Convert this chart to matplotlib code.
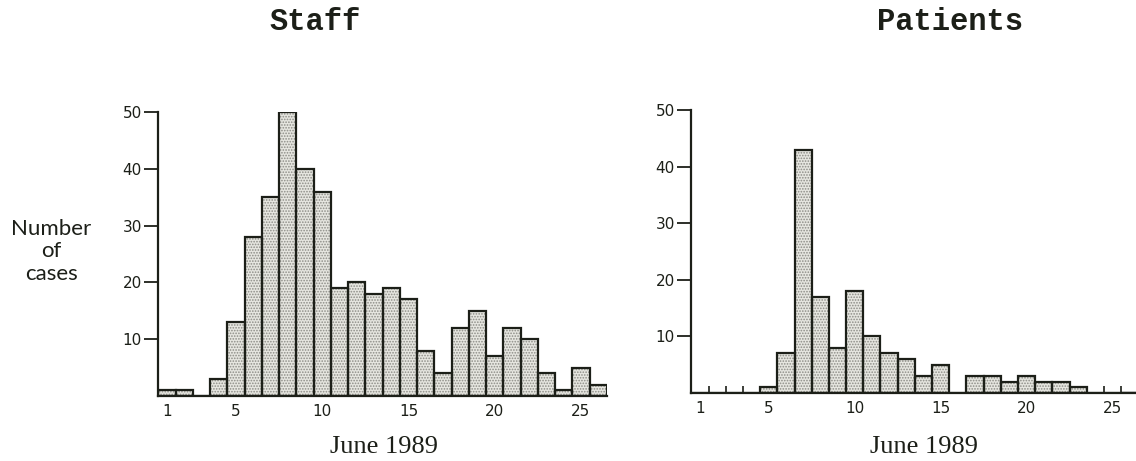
import matplotlib
matplotlib.use("Agg")
import matplotlib.pyplot as plt
import numpy as np

days = list(range(1, 27))
staff = [1, 1, 0, 3, 13, 28, 35, 50, 40, 36, 19, 20, 18, 19, 17, 8, 4, 12, 15, 7, 12, 10, 4, 1, 5, 2]
patients = [0, 0, 0, 0, 1, 7, 43, 17, 8, 18, 10, 7, 6, 3, 5, 0, 3, 3, 2, 3, 2, 2, 1, 0, 0, 0]
xtick_vals = [1, 5, 10, 15, 20, 25]
ytick_vals = [10, 20, 30, 40, 50]
titles = ["Staff", "Patients"]
xlabel = "June 1989"
ylabel = "Number\nof\ncases"

ink = "#1c1f18"
plt.rcParams['hatch.linewidth'] = 0.8
plt.rcParams['hatch.color'] = '#8c8c86'

fig = plt.figure(figsize=(11.36, 4.61), dpi=100)
fig.patch.set_facecolor("white")

rects = [[0.1394, 0.141, 0.3948, 0.616], [0.6086, 0.1475, 0.3935, 0.614]]
series = [staff, patients]

for rect, vals, title in zip(rects, series, titles):
    ax = fig.add_axes(rect)
    ax.bar(days, vals, width=1.0, color="#e6e6e0", edgecolor="#8c8c86",
           hatch="......", linewidth=0)
    ax.bar(days, vals, width=1.0, facecolor="none", edgecolor=ink, linewidth=1.6)
    ax.set_xlim(0.5, 26.5)
    ax.set_ylim(0, 50)
    for s in ["top", "right"]:
        ax.spines[s].set_visible(False)
    for s in ["left", "bottom"]:
        ax.spines[s].set_color(ink)
        ax.spines[s].set_linewidth(1.6)
    ax.set_xticks(xtick_vals)
    ax.set_xticklabels([str(v) for v in xtick_vals], fontsize=11, family="DejaVu Sans", color=ink)
    ax.set_xticks(np.arange(1.5, 26.5, 1.0), minor=True)
    ax.tick_params(axis="x", which="major", length=0, pad=6)
    ax.tick_params(axis="x", which="minor", direction="in", length=5, width=1.2, color=ink)
    ax.set_yticks(ytick_vals)
    ax.set_yticklabels([str(v) for v in ytick_vals], fontsize=11, family="DejaVu Sans", color=ink)
    ax.tick_params(axis="y", which="major", direction="out", length=10, width=1.3, color=ink, pad=2)
    ax.set_facecolor("none")

fig.text(0.277, 0.952, titles[0], ha="center", va="center", fontsize=22,
         family="Liberation Mono", fontweight="bold", color=ink)
fig.text(0.836, 0.952, titles[1], ha="center", va="center", fontsize=22,
         family="Liberation Mono", fontweight="bold", color=ink)
fig.text(0.338, 0.030, xlabel, ha="center", va="center", fontsize=19,
         family="Liberation Serif", color=ink)
fig.text(0.813, 0.030, xlabel, ha="center", va="center", fontsize=19,
         family="Liberation Serif", color=ink)
fig.text(0.045, 0.455, ylabel, ha="center", va="center", fontsize=16,
         family="Lato", color=ink, linespacing=1.15)

fig.savefig("out.png", dpi=100, facecolor="white")
